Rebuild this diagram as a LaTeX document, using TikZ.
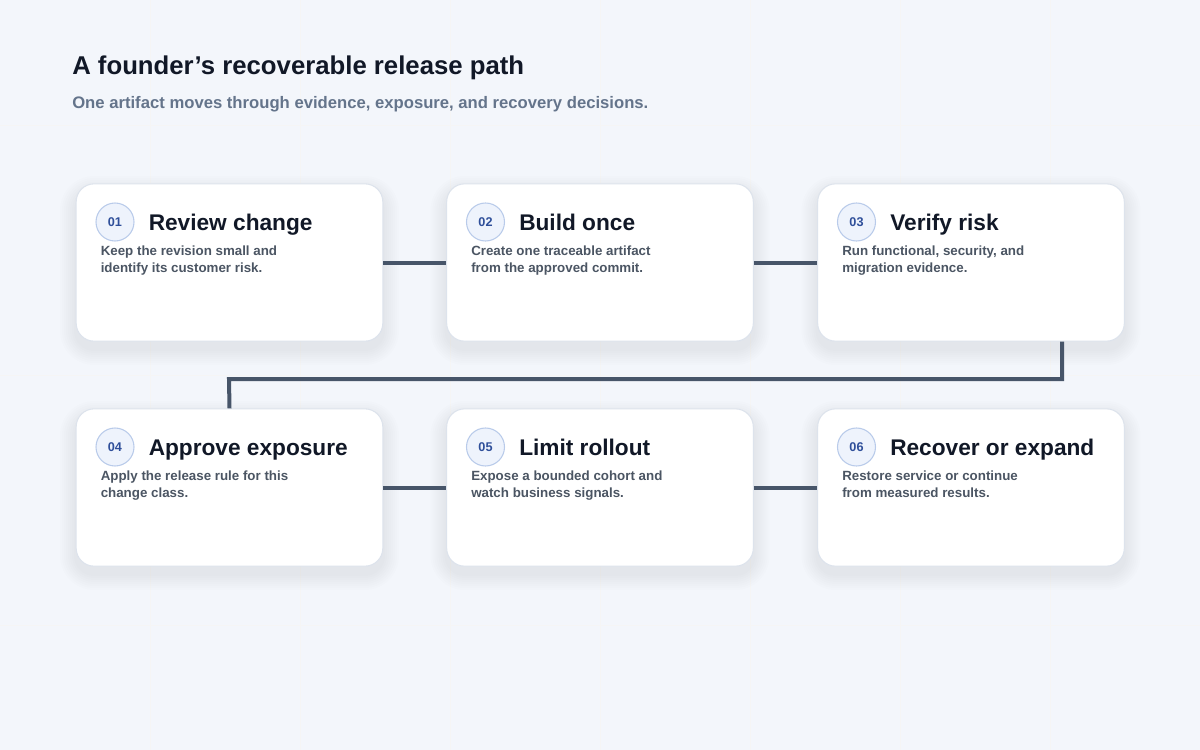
\documentclass[tikz,border=0pt]{standalone}
\usepackage{fontspec}
\setmainfont{Liberation Sans}
\definecolor{bgc}{HTML}{F3F6FB}
\definecolor{ink}{HTML}{111827}
\definecolor{sub}{HTML}{64748B}
\definecolor{body}{HTML}{4B5563}
\definecolor{wire}{HTML}{475569}
\definecolor{cbord}{HTML}{DDE3EC}
\definecolor{numf}{HTML}{EEF3FC}
\definecolor{numb}{HTML}{B9CBEA}
\definecolor{numt}{HTML}{2F4F9A}
\begin{document}
\begin{tikzpicture}[x=0.75pt,y=-0.75pt,
  card/.style={draw=cbord,line width=0.8pt,fill=white,rounded corners=13.5pt,minimum width=230pt,minimum height=118pt,inner sep=0pt},
  num/.style={circle,draw=numb,line width=0.8pt,fill=numf,minimum size=28.5pt,inner sep=0pt,text=numt,font=\bfseries\fontsize{9.5}{11}\selectfont},
  ttl/.style={anchor=base west,text=ink,font=\bfseries\fontsize{17}{19}\selectfont,inner sep=0pt},
  bdy/.style={anchor=base west,align=left,text=body,font=\bfseries\fontsize{10}{12.7}\selectfont,inner sep=0pt},
  wire/.style={draw=wire,line width=3pt}]
\fill[bgc] (0,0) rectangle (1200,750);
\useasboundingbox (0,0) rectangle (1200,750);
\foreach \x in {150,300,...,1050} \draw[black!4,line width=0.6pt] (\x,0) -- (\x,750);
\foreach \y in {125,375,625} \draw[black!4,line width=0.6pt] (0,\y) -- (1200,\y);
\node[anchor=west,inner sep=0pt,text=ink,font=\bfseries\fontsize{19.3}{22}\selectfont] (title) at (72,68) {A founder’s recoverable release path};
\node[anchor=west,inner sep=0pt,text=sub,font=\bfseries\fontsize{12.5}{14}\selectfont] (subt) at (72,104) {One artifact moves through evidence, exposure, and recovery decisions.};
\foreach \i/\cx/\cy/\t/\a/\b in {
 1/229.5/262.5/Review change/Keep the revision small and/identify its customer risk.,
 2/600/262.5/Build once/Create one traceable artifact/from the approved commit.,
 3/971/262.5/Verify risk/{Run functional, security, and}/migration evidence.,
 4/229.5/487.5/Approve exposure/Apply the release rule for this/change class.,
 5/600/487.5/Limit rollout/Expose a bounded cohort and/watch business signals.,
 6/971/487.5/Recover or expand/Restore service or continue/from measured results.}{
  \foreach \k in {1,...,8}
    \fill[black,opacity=0.009,rounded corners={13.5pt+\k*1.5pt}] (\cx-153.5-\k*2,\cy-78.5-\k*2+8) rectangle (\cx+153.5+\k*2,\cy+78.5+\k*2+8);
  \node[card] (c\i) at (\cx,\cy) {};
  \node[num] (n\i) at ([xshift=-114.5*0.75pt,yshift=40.5*0.75pt]c\i.center) {0\i};
  \node[ttl] (t\i) at ([xshift=-81*0.75pt,yshift=32.5*0.75pt]c\i.center) {\t};
  \node[bdy] (b\i) at ([xshift=-129*0.75pt,yshift=-10*0.75pt]c\i.center) {\a\\\b};
}
\draw[wire] (c1.east) -- (c2.west);
\draw[wire] (c2.east) -- (c3.west);
\draw[wire] (c4.east) -- (c5.west);
\draw[wire] (c5.east) -- (c6.west);
\coordinate (k1) at (1062,379);
\coordinate (k2) at (229,379);
\draw[wire] (c3.south -| k1) -- (k1) -- (k2) -- (c4.north);
\end{tikzpicture}
\end{document}
